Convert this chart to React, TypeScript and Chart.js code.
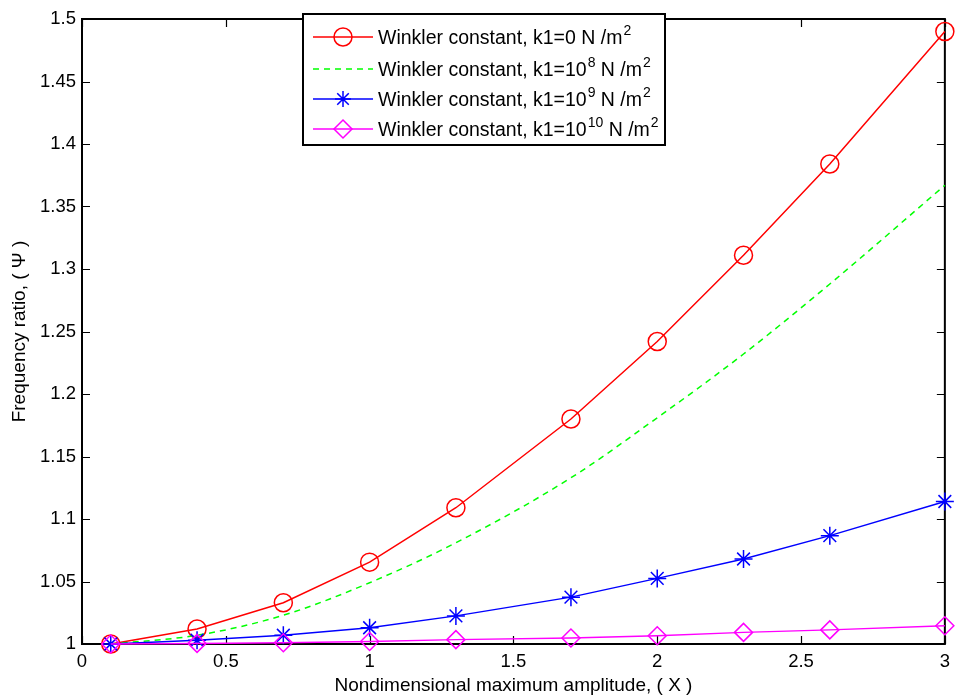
import React, { useEffect, useRef } from "react";
import { Chart, registerables } from "chart.js";

Chart.register(...registerables);

const xValues = [0.1, 0.4, 0.7, 1.0, 1.3, 1.7, 2.0, 2.3, 2.6, 3.0];
const k1Zero = [1.0, 1.012, 1.033, 1.0655, 1.109, 1.18, 1.242, 1.311, 1.384, 1.49];
const k1E8 = [1.0, 1.007, 1.023, 1.049, 1.081, 1.133, 1.181, 1.232, 1.288, 1.367];
const k1E9 = [1.0, 1.003, 1.007, 1.013, 1.0225, 1.0375, 1.0525, 1.068, 1.0867, 1.114];
const k1E10 = [1.0, 1.0005, 1.001, 1.002, 1.0035, 1.0048, 1.0066, 1.0093, 1.0113, 1.0146];

const xTicks = [0, 0.5, 1, 1.5, 2, 2.5, 3];
const yTicks = [1, 1.05, 1.1, 1.15, 1.2, 1.25, 1.3, 1.35, 1.4, 1.45, 1.5];

const legendPrefix = "Winkler constant, k1=";
const legendBase = ["0", "10", "10", "10"];
const legendExp = ["", "8", "9", "10"];
const seriesColors = ["#ff0000", "#00ff00", "#0000ff", "#ff00ff"];
const seriesMarkers = ["circle", "none", "star", "diamond"];

const FONT = "Arial, 'Liberation Sans', sans-serif";

function drawMarker(ctx: CanvasRenderingContext2D, kind: string, x: number, y: number, color: string) {
  ctx.save();
  ctx.strokeStyle = color;
  ctx.lineWidth = 1.5;
  ctx.beginPath();
  if (kind === "circle") {
    ctx.arc(x, y, 9, 0, Math.PI * 2);
  } else if (kind === "star") {
    const r = 8;
    ctx.moveTo(x - r, y); ctx.lineTo(x + r, y);
    ctx.moveTo(x, y - r); ctx.lineTo(x, y + r);
    const d = r * 0.72;
    ctx.moveTo(x - d, y - d); ctx.lineTo(x + d, y + d);
    ctx.moveTo(x - d, y + d); ctx.lineTo(x + d, y - d);
  } else if (kind === "diamond") {
    const r = 9;
    ctx.moveTo(x, y - r); ctx.lineTo(x + r, y); ctx.lineTo(x, y + r); ctx.lineTo(x - r, y); ctx.closePath();
  }
  ctx.stroke();
  ctx.restore();
}

const framePlugin = {
  id: "frame",
  beforeDatasetsDraw(chart: any) {
    const { ctx, chartArea } = chart;
    const { left, right, top, bottom } = chartArea;
    const xs = chart.scales.x;
    const ys = chart.scales.y;
    ctx.save();
    ctx.strokeStyle = "#000";
    ctx.lineWidth = 1.2;
    const tl = 8;
    ctx.beginPath();
    xTicks.forEach((v) => {
      const px = Math.round(xs.getPixelForValue(v)) + 0.5;
      ctx.moveTo(px, bottom); ctx.lineTo(px, bottom - tl);
      ctx.moveTo(px, top); ctx.lineTo(px, top + tl);
    });
    yTicks.forEach((v) => {
      const py = Math.round(ys.getPixelForValue(v)) + 0.5;
      ctx.moveTo(left, py); ctx.lineTo(left + tl, py);
      ctx.moveTo(right, py); ctx.lineTo(right - tl, py);
    });
    ctx.stroke();
    ctx.lineWidth = 2;
    ctx.strokeRect(left, top, right - left, bottom - top);
    ctx.restore();
  },
  afterDraw(chart: any) {
    const { ctx } = chart;
    const bx = 303, by = 14, bw = 362, bh = 131;
    ctx.save();
    ctx.fillStyle = "#fff";
    ctx.fillRect(bx, by, bw, bh);
    ctx.strokeStyle = "#000";
    ctx.lineWidth = 2;
    ctx.strokeRect(bx, by, bw, bh);
    const rowY = [37, 69, 99, 129];
    for (let i = 0; i < 4; i++) {
      const y = rowY[i];
      ctx.strokeStyle = seriesColors[i];
      ctx.lineWidth = 1.5;
      ctx.setLineDash(i === 1 ? [6, 5] : []);
      ctx.beginPath();
      ctx.moveTo(313, y);
      ctx.lineTo(373, y);
      ctx.stroke();
      ctx.setLineDash([]);
      drawMarker(ctx, seriesMarkers[i], 343, y, seriesColors[i]);
      ctx.fillStyle = "#000";
      ctx.textBaseline = "middle";
      ctx.textAlign = "left";
      let x = 378;
      ctx.font = `19.5px ${FONT}`;
      const t1 = legendPrefix + legendBase[i];
      ctx.fillText(t1, x, y + 2);
      x += ctx.measureText(t1).width;
      if (legendExp[i]) {
        ctx.font = `14px ${FONT}`;
        ctx.fillText(legendExp[i], x + 1, y - 6);
        x += ctx.measureText(legendExp[i]).width + 1;
      }
      ctx.font = `19.5px ${FONT}`;
      const t2 = " N /m";
      ctx.fillText(t2, x, y + 2);
      x += ctx.measureText(t2).width;
      ctx.font = `14px ${FONT}`;
      ctx.fillText("2", x + 1, y - 6);
    }
    ctx.restore();
  },
};

export default function App() {
  const ref = useRef<HTMLCanvasElement | null>(null);
  useEffect(() => {
    if (!ref.current) return;
    const mk = (data: number[]) => xValues.map((x, i) => ({ x, y: data[i] }));
    const chart = new Chart(ref.current, {
      type: "line",
      data: {
        datasets: [
          {
            label: "k1=0",
            data: mk(k1Zero),
            borderColor: seriesColors[0],
            borderWidth: 1.5,
            pointStyle: "circle",
            pointRadius: 9,
            pointBorderWidth: 1.5,
            pointBackgroundColor: "rgba(0,0,0,0)",
            pointBorderColor: seriesColors[0],
            tension: 0,
            clip: false,
            order: 4,
          },
          {
            label: "k1=1e8",
            data: mk(k1E8),
            borderColor: seriesColors[1],
            borderWidth: 1.5,
            borderDash: [6, 5],
            pointRadius: 0,
            tension: 0.4,
            cubicInterpolationMode: "monotone",
            clip: false,
            order: 3,
          },
          {
            label: "k1=1e9",
            data: mk(k1E9),
            borderColor: seriesColors[2],
            borderWidth: 1.5,
            pointStyle: "star",
            pointRadius: 9,
            pointBorderWidth: 1.5,
            pointBackgroundColor: "rgba(0,0,0,0)",
            pointBorderColor: seriesColors[2],
            tension: 0,
            clip: false,
            order: 2,
          },
          {
            label: "k1=1e10",
            data: mk(k1E10),
            borderColor: seriesColors[3],
            borderWidth: 1.5,
            pointStyle: "rectRot",
            pointRadius: 9,
            pointBorderWidth: 1.5,
            pointBackgroundColor: "rgba(0,0,0,0)",
            pointBorderColor: seriesColors[3],
            tension: 0,
            clip: false,
            order: 1,
          },
        ],
      },
      options: {
        animation: false,
        responsive: true,
        maintainAspectRatio: false,
        layout: { padding: { top: 19, right: 12, left: 0, bottom: 0 } },
        plugins: { legend: { display: false }, tooltip: { enabled: false } },
        scales: {
          x: {
            type: "linear",
            min: 0,
            max: 3,
            afterBuildTicks: (s: any) => { s.ticks = xTicks.map((v) => ({ value: v })); },
            afterFit: (s: any) => { s.height = 51; },
            grid: { display: false, drawTicks: false },
            border: { display: false },
            ticks: {
              color: "#000",
              font: { family: FONT, size: 18.5 },
              padding: 7,
              maxRotation: 0,
              callback: (v: any) => String(Number(Number(v).toFixed(2))),
            },
            title: {
              display: true,
              text: "Nondimensional maximum amplitude, ( X )",
              color: "#000",
              font: { family: FONT, size: 19, lineHeight: 1 },
              padding: { top: 0, bottom: 0 },
            },
          },
          y: {
            type: "linear",
            min: 1,
            max: 1.5,
            afterBuildTicks: (s: any) => { s.ticks = yTicks.map((v) => ({ value: v })); },
            afterFit: (s: any) => { s.width = 82; },
            grid: { display: false, drawTicks: false },
            border: { display: false },
            ticks: {
              color: "#000",
              font: { family: FONT, size: 18.5 },
              padding: 6,
              callback: (v: any) => String(Number(Number(v).toFixed(2))),
            },
            title: {
              display: true,
              text: "Frequency ratio, ( Ψ )",
              color: "#000",
              font: { family: FONT, size: 19, lineHeight: 1 },
              padding: { top: 10, bottom: 10 },
            },
          },
        },
      },
      plugins: [framePlugin],
    } as any);
    return () => chart.destroy();
  }, []);
  return (
    <div style={{ position: "absolute", left: 0, top: 0, width: 957, height: 695, background: "#fff" }}>
      <canvas ref={ref} />
    </div>
  );
}
